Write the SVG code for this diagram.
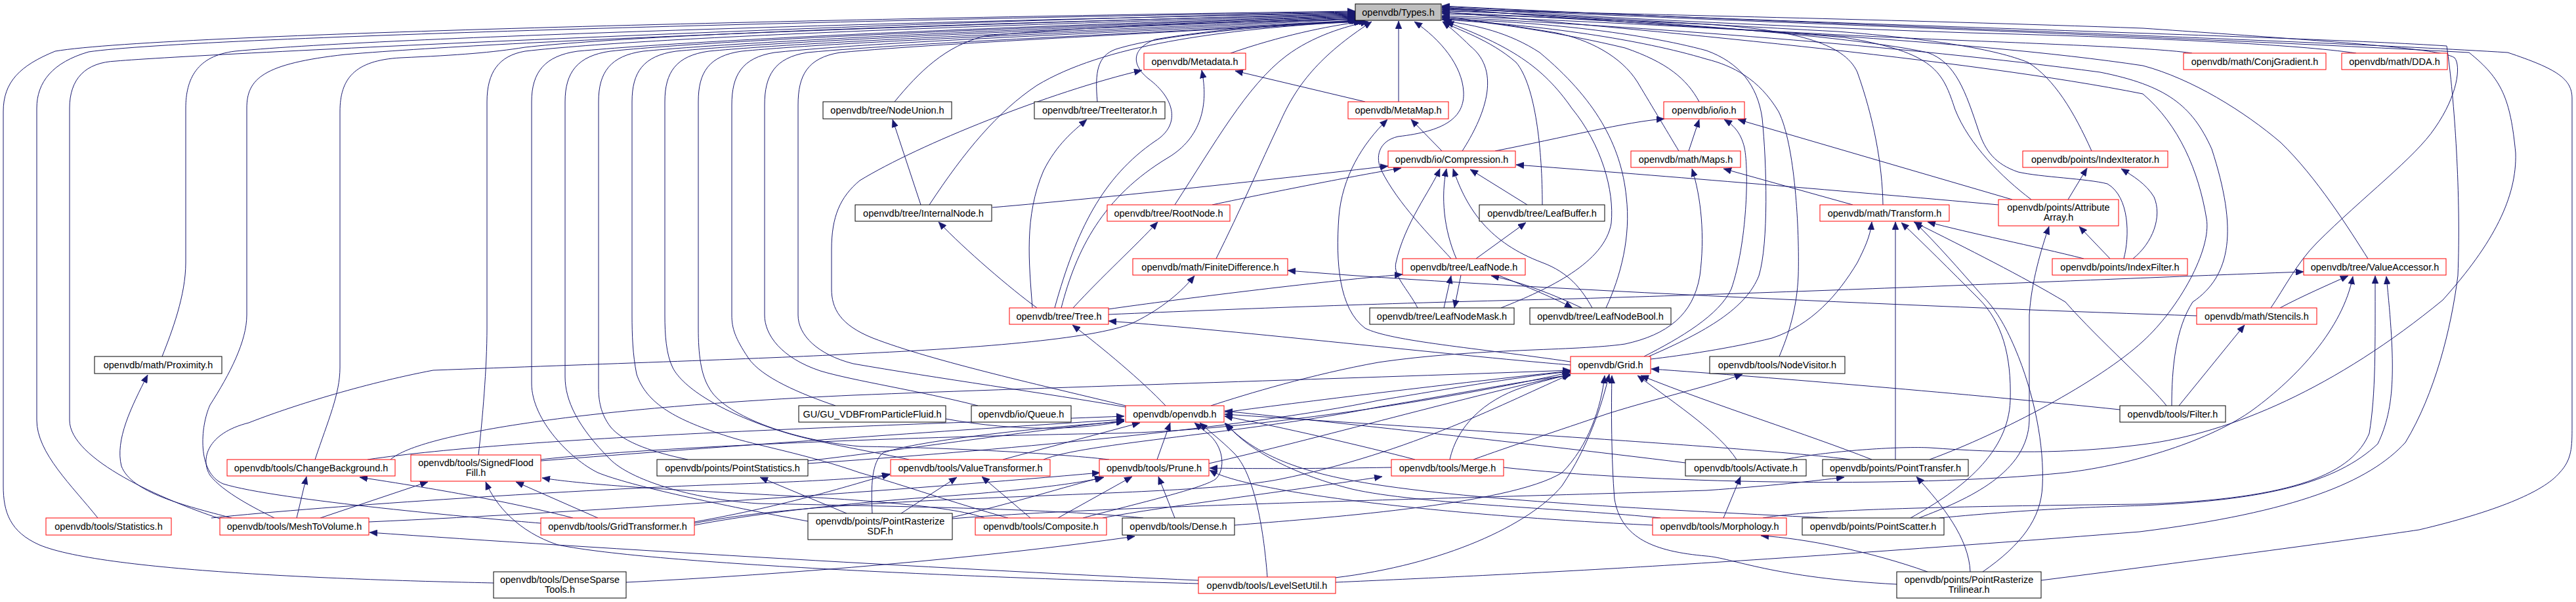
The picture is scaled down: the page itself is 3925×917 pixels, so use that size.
<svg xmlns="http://www.w3.org/2000/svg" width="3925" height="917" viewBox="0 0 3925 917">
<style>
.n rect{fill:#ffffff;stroke:#000000;stroke-width:1}
.n.r rect{stroke:#ff0000}
.n.root rect{fill:#bfbfbf;stroke:#000000}
.n text{font-family:"Liberation Sans",Arial,sans-serif;font-size:14.5px;text-anchor:middle;fill:#000000}
#edges path{fill:none;stroke:#191970;stroke-width:1;marker-end:url(#ah)}
</style>
<defs>
<marker id="ah" viewBox="0 0 12 10" refX="12" refY="5" markerWidth="12" markerHeight="10" markerUnits="userSpaceOnUse" orient="auto"><path d="M0,0 L12,5 L0,10 z" fill="#191970" stroke="#191970" stroke-width="0.5"/></marker>
</defs>
<rect x="0" y="0" width="3925" height="917" fill="#ffffff"/>
<g id="edges">
<path d="M752,888 C560,884 160,872 60,830 C15,810 5,780 5,740 L5,170 C5,125 30,100 84,78 C250,50 1400,26 2065,17"/>
<path d="M149,789 C110,740 56,690 56,640 L56,165 C56,125 80,95 135,79 C300,55 1400,28 2065,18"/>
<path d="M335,790 C250,762 106,700 106,640 L106,165 C106,120 130,95 177,93 C300,82 1400,30 2065,19"/>
<path d="M247,543 C262,505 283,450 283,400 L283,165 C283,120 300,85 358,78 C600,55 1500,30 2065,20"/>
<path d="M824,797 C740,790 420,762 340,737 C300,720 305,650 320,617 C350,570 376,520 376,480 L376,165 C376,120 400,97 526,83 C800,60 1500,35 2065,21"/>
<path d="M480,700 C500,640 518,600 518,560 L518,170 C518,120 540,92 610,88 C700,84 750,80 800,72 C1000,50 1600,32 2065,22"/>
<path d="M729,693 C735,640 742,560 742,500 L742,155 C742,110 760,85 800,78 C1000,55 1600,35 2065,23"/>
<path d="M1231,794 C1100,770 960,740 911,720 C870,700 810,640 810,584 L810,155 C810,110 830,85 880,78 C1100,58 1600,38 2065,24"/>
<path d="M1742,789 C1600,775 1400,772 1155,767 C1050,760 960,730 930,700 C880,650 861,610 861,574 L861,155 C861,110 880,85 930,78 C1100,60 1600,40 2065,25"/>
<path d="M1048,700 C1000,690 950,675 930,650 C915,630 912,610 912,590 L912,155 C912,110 930,85 980,78 C1150,62 1600,42 2065,26"/>
<path d="M1536,789 C1450,765 1380,740 1310,720 C1230,692 1150,678 1110,665 C1030,640 985,615 970,570 C964,540 963,510 963,480 L963,155 C963,110 980,85 1030,78 C1200,62 1600,45 2065,27"/>
<path d="M1385,700 C1340,690 1250,675 1200,660 C1100,630 1040,590 1025,560 C1015,540 1013,510 1013,480 L1013,155 C1013,110 1030,85 1080,78 C1250,62 1650,47 2065,28"/>
<path d="M1690,700 C1600,690 1450,682 1310,680 C1200,670 1100,630 1080,590 C1068,570 1064,540 1064,500 L1064,155 C1064,110 1080,85 1130,78 C1300,62 1700,48 2066,29"/>
<path d="M1273,618 C1220,600 1160,575 1140,545 C1120,515 1115,500 1115,480 L1115,160 C1115,115 1130,88 1180,80 C1350,62 1750,48 2068,31"/>
<path d="M1490,618 C1400,595 1300,580 1250,565 C1190,545 1165,510 1165,480 L1165,160 C1165,115 1180,88 1230,80 C1400,64 1780,50 2070,31"/>
<path d="M1715,620 C1600,600 1420,575 1300,554 C1245,540 1216,510 1216,480 L1216,160 C1216,115 1230,88 1280,80 C1450,64 1800,50 2072,31"/>
<path d="M1715,618 C1600,590 1420,550 1330,515 C1280,495 1267,470 1267,440 L1267,380 C1267,330 1280,300 1310,275 C1400,220 1600,140 1740,107"/>
<path d="M1363,155 C1400,110 1440,70 1500,55 C1650,40 1900,32 2066,30"/>
<path d="M1416,312 C1470,230 1520,170 1580,130 C1680,70 1850,45 2075,32"/>
<path d="M1403,312 L1360,182"/>
<path d="M1672,155 C1668,110 1672,85 1700,75 C1780,50 1950,38 2078,33"/>
<path d="M1512,316 C1700,300 1950,272 2115,253"/>
<path d="M1580,469 C1540,440 1470,380 1430,338"/>
<path d="M1573,469 C1568,400 1560,330 1590,260 C1610,220 1635,200 1656,182"/>
<path d="M1607,469 C1640,350 1680,270 1760,215 C1800,190 1790,150 1750,120 C1725,100 1722,75 1760,60 C1880,40 2000,34 2083,33"/>
<path d="M1617,469 C1640,380 1680,300 1780,240 C1830,210 1842,160 1831,107"/>
<path d="M1635,469 C1680,420 1730,375 1764,338"/>
<path d="M1790,312 C1850,220 1900,130 1960,85 C2000,55 2050,40 2085,33"/>
<path d="M1847,312 C1950,290 2080,265 2135,256"/>
<path d="M1875,81 C1950,55 2020,40 2075,33"/>
<path d="M2080,155 L1882,108"/>
<path d="M2131,155 L2131,32"/>
<path d="M2197,230 L2150,182"/>
<path d="M2228,230 C2260,180 2290,110 2240,70 C2225,55 2210,42 2198,33"/>
<path d="M2278,230 C2380,210 2480,185 2536,181"/>
<path d="M2327,312 L2240,258"/>
<path d="M2350,312 C2350,230 2340,130 2310,95 C2270,60 2220,45 2198,33"/>
<path d="M2249,394 L2325,339"/>
<path d="M2219,394 C2200,350 2195,300 2204,257"/>
<path d="M2211,394 C2180,360 2130,310 2105,260 C2095,240 2100,215 2130,208 C2200,200 2232,180 2230,140 C2228,100 2195,60 2155,33"/>
<path d="M2200,469 L2211,420"/>
<path d="M2226,419 L2216,469"/>
<path d="M2410,469 C2370,450 2320,430 2272,420"/>
<path d="M2282,419 C2330,438 2370,455 2396,469"/>
<path d="M2160,469 C2145,440 2122,420 2127,400 C2140,340 2180,290 2194,257"/>
<path d="M2426,469 C2410,440 2390,415 2350,400 C2270,370 2235,320 2214,257"/>
<path d="M2287,469 C2360,440 2445,400 2455,340 C2460,290 2440,220 2395,165 C2350,100 2300,70 2203,33"/>
<path d="M2447,469 C2470,420 2485,360 2478,300 C2470,220 2430,150 2346,80 C2300,50 2250,38 2200,32"/>
<path d="M2393,551 C2250,530 2120,520 2080,500 C2040,470 2035,400 2040,330 C2045,270 2075,220 2114,182"/>
<path d="M1853,394 C1890,320 1920,250 1950,187 C1975,130 2010,85 2090,33"/>
<path d="M3347,481 C3000,470 2300,440 1962,412"/>
<path d="M1688,471 C1800,455 2000,430 2137,418"/>
<path d="M418,789 C390,775 340,750 320,724 C305,700 315,660 379,644 C440,620 550,585 660,564 C900,555 1200,545 1300,539 C1500,530 1680,515 1730,490 C1770,470 1800,445 1820,420"/>
<path d="M1689,479 C1900,470 2100,462 2400,455 C2900,440 3200,425 3510,414"/>
<path d="M2393,556 C2200,540 1900,505 1689,489"/>
<path d="M1776,618 C1740,580 1680,530 1634,495"/>
<path d="M1866,628 C2000,610 2250,580 2393,565"/>
<path d="M1845,618 C1900,600 2000,570 2100,552 C2250,530 2400,535 2476,524 C2540,510 2580,480 2590,420 C2598,360 2592,300 2578,257"/>
<path d="M2589,155 C2570,120 2540,95 2476,73 C2380,50 2280,35 2197,27"/>
<path d="M2558,230 C2540,200 2510,150 2495,125 C2470,85 2420,60 2371,50 C2300,38 2240,30 2197,25"/>
<path d="M2573,230 L2589,182"/>
<path d="M2823,312 L2626,257"/>
<path d="M2869,312 C2868,250 2855,180 2830,110 C2810,65 2730,45 2600,37 C2450,30 2300,24 2197,21"/>
<path d="M3066,304 L2648,182"/>
<path d="M3095,304 C3050,270 3000,220 2979,167 C2960,110 2950,80 2810,57 C2600,40 2350,25 2197,19"/>
<path d="M3151,304 L3180,256"/>
<path d="M3187,230 C3160,170 3130,120 3090,95 C3040,75 2950,60 2800,48 C2550,35 2350,20 2197,17"/>
<path d="M3045,312 C2800,290 2500,265 2310,251"/>
<path d="M3215,394 L3168,345"/>
<path d="M3250,394 C3280,370 3295,330 3282,300 C3270,280 3250,268 3232,257"/>
<path d="M3236,394 C3245,360 3245,300 3211,280 C3180,272 3110,270 3075,262 C3040,250 3025,230 3015,200 C2995,140 2980,95 2937,80 C2800,50 2400,25 2197,15"/>
<path d="M3175,394 C3100,375 3000,355 2937,338"/>
<path d="M2505,543 C2560,515 2620,480 2638,440 C2662,370 2665,260 2658,225 C2652,200 2640,190 2627,182"/>
<path d="M2512,543 C2600,505 2660,470 2680,420 C2695,370 2692,250 2685,180 C2678,130 2650,95 2600,77 C2500,50 2350,33 2197,29"/>
<path d="M2711,543 C2725,510 2738,470 2740,420 C2742,350 2735,220 2710,170 C2680,120 2640,100 2600,90 C2500,60 2350,38 2197,30"/>
<path d="M2245,700 C2300,680 2371,657 2450,630 C2530,605 2600,590 2655,570"/>
<path d="M3230,624 C3000,600 2700,575 2516,562"/>
<path d="M3301,618 C3280,590 3200,520 3147,460 C3080,420 3000,380 2916,338"/>
<path d="M3320,618 L3420,495"/>
<path d="M3309,618 C3309,560 3315,500 3341,460 C3400,420 3410,350 3370,227 C3340,160 3300,130 3200,110 C2900,70 2500,40 2197,26"/>
<path d="M3460,469 C3480,440 3500,400 3530,370 C3600,300 3680,240 3710,195 C3745,145 3750,100 3740,88 C3720,75 3600,66 3265,43 C2900,30 2500,22 2197,14"/>
<path d="M3474,469 C3510,450 3545,435 3578,420"/>
<path d="M3608,394 C3580,350 3530,270 3475,217 C3420,170 3340,120 3265,100 C3000,60 2500,35 2197,24"/>
<path d="M3590,81 C3500,68 3300,58 3000,50 C2700,40 2400,25 2197,11"/>
<path d="M3340,81 C3300,75 3200,70 3000,62 C2700,50 2400,30 2197,12"/>
<path d="M2035,887 C2300,875 2600,862 3260,810 C3500,780 3610,734 3665,674 C3710,600 3735,500 3745,420 C3750,300 3740,150 3728,70 C3500,55 2700,35 2197,10"/>
<path d="M2718,700 C2800,685 2900,680 2940,682 C3050,690 3147,692 3265,677 C3400,660 3560,590 3722,457 C3800,370 3835,300 3833,233 C3825,150 3812,120 3762,80 C3300,55 2700,35 2197,12"/>
<path d="M3110,884 C3300,860 3600,820 3686,807 C3800,780 3875,750 3900,720 C3919,700 3919,680 3919,650 L3919,150 C3919,120 3896,105 3821,80 C3500,60 2700,35 2197,9"/>
<path d="M2940,700 C3050,660 3200,580 3265,520 C3320,470 3370,380 3362,333 C3350,260 3320,190 3265,143 C3000,90 2500,45 2197,18"/>
<path d="M2686,789 C2750,778 2900,772 3265,768 C3500,760 3585,720 3610,660 C3620,600 3619,530 3619,420"/>
<path d="M2291,712 C2500,735 2900,745 3147,720 C3250,708 3370,670 3433,624 C3500,575 3570,500 3585,421"/>
<path d="M2955,789 C3100,775 3200,772 3265,770 C3450,762 3560,736 3623,676 C3650,620 3650,557 3636,421"/>
<path d="M2924,789 C3000,760 3090,720 3092,640 L3092,480 C3095,430 3110,380 3122,345"/>
<path d="M2911,789 C2990,745 3060,690 3063,610 C3065,540 3050,490 3015,455 C2970,410 2930,370 2897,339"/>
<path d="M3021,871 C3080,830 3110,790 3112,740 C3115,680 3100,600 3070,530 C3055,495 3040,470 3020,450 C2985,410 2950,370 2918,339"/>
<path d="M2937,871 C2850,840 2750,820 2683,816"/>
<path d="M3002,871 C3000,820 2960,770 2920,726"/>
<path d="M2890,890 C2700,880 2640,850 2600,847 C2520,840 2470,820 2460,760 C2455,700 2455,620 2456,572"/>
<path d="M2888,700 L2888,338"/>
<path d="M2515,547 C2560,542 2640,530 2700,515 C2760,495 2800,450 2830,400 C2840,380 2850,360 2852,338"/>
<path d="M2626,789 L2652,726"/>
<path d="M2209,700 C2220,650 2260,610 2320,590 C2350,580 2375,575 2393,570"/>
<path d="M2156,700 C2080,680 1950,650 1866,634"/>
<path d="M2852,700 C2750,660 2620,620 2500,572"/>
<path d="M2646,700 C2620,660 2560,620 2495,572"/>
<path d="M2819,700 C2700,684 2300,660 1866,631"/>
<path d="M2568,705 C2300,672 2000,640 1866,626"/>
<path d="M2785,789 C2500,775 2200,760 2050,730 C1950,710 1900,680 1866,644"/>
<path d="M2530,789 C2400,775 2160,768 2060,745 C1980,725 1905,690 1868,645"/>
<path d="M2518,800 C2200,785 1900,750 1843,716"/>
<path d="M2120,712 C2000,714 1900,714 1843,713"/>
<path d="M1931,879 C1925,800 1910,720 1880,690 C1860,670 1840,655 1828,644"/>
<path d="M2034,880 C2200,860 2330,800 2380,740 C2420,680 2440,620 2452,570"/>
<path d="M1826,889 C1500,880 1000,860 850,830 C790,810 755,770 740,734"/>
<path d="M1826,884 C1500,870 900,835 563,811"/>
<path d="M954,887 C1200,875 1500,850 1729,817"/>
<path d="M353,789 C280,770 200,750 185,710 C175,670 200,620 225,571"/>
<path d="M452,789 L467,726"/>
<path d="M488,789 L652,734"/>
<path d="M562,795 C900,780 1400,745 1676,720"/>
<path d="M873,789 C800,770 700,750 548,727"/>
<path d="M911,789 L786,734"/>
<path d="M1058,795 C1200,770 1300,738 1356,722"/>
<path d="M1058,800 C1150,782 1300,765 1450,755 C1580,745 1650,735 1682,727"/>
<path d="M1290,782 L1158,727"/>
<path d="M1373,782 L1458,727"/>
<path d="M1329,782 C1327,740 1328,705 1345,690 C1400,670 1600,650 1713,642"/>
<path d="M1451,788 C1550,765 1620,742 1680,727"/>
<path d="M1451,790 C1700,770 2200,760 2600,747 C2700,740 2760,733 2810,727"/>
<path d="M1650,789 C1720,770 1830,745 1852,730 C1868,715 1865,680 1840,660 C1830,652 1825,648 1820,644"/>
<path d="M1570,789 L1496,726"/>
<path d="M1612,789 L1725,726"/>
<path d="M1500,789 C1450,770 1300,760 1100,750 C950,742 870,735 826,728"/>
<path d="M1680,789 C1750,775 1950,750 2106,726"/>
<path d="M1790,789 L1765,726"/>
<path d="M1881,800 C2000,790 2300,770 2380,720 C2420,680 2440,620 2445,572"/>
<path d="M1528,700 L1737,644"/>
<path d="M1763,700 L1783,644"/>
<path d="M1231,702 C1400,682 1600,652 1713,641"/>
<path d="M824,702 C1100,680 1500,652 1713,639"/>
<path d="M560,700 C800,665 1300,650 1713,634"/>
<path d="M322,789 C500,770 900,745 1100,738 C1250,733 1320,728 1356,723"/>
<path d="M595,700 C640,660 900,620 1300,602 C1600,590 2100,575 2393,564"/>
<path d="M824,700 C1000,680 1400,665 1700,660 C1900,656 2200,610 2393,567"/>
<path d="M1058,797 C1300,750 1800,760 1950,730 C2150,690 2300,610 2393,570"/>
<path d="M1231,706 C1500,688 1900,652 2100,610 C2250,585 2330,572 2393,566"/>
<path d="M1590,700 C1650,675 1900,660 2100,620 C2250,595 2330,578 2393,572"/>
<path d="M1842,706 C2000,670 2250,600 2393,570"/>
<path d="M1441,638 C1550,658 1650,655 1713,641"/>
</g>
<g id="n_types" class="n root"><rect x="2065" y="6" width="131" height="25"/><text x="2130.5" y="23.5">openvdb/Types.h</text></g>
<g id="n_metadata" class="n r"><rect x="1743" y="81" width="155" height="25"/><text x="1820.5" y="98.5">openvdb/Metadata.h</text></g>
<g id="n_conjgradient" class="n r"><rect x="3327" y="81" width="217" height="25"/><text x="3435.5" y="98.5">openvdb/math/ConjGradient.h</text></g>
<g id="n_dda" class="n r"><rect x="3568" y="81" width="161" height="25"/><text x="3648.5" y="98.5">openvdb/math/DDA.h</text></g>
<g id="n_nodeunion" class="n"><rect x="1254" y="155" width="196" height="26"/><text x="1352" y="173">openvdb/tree/NodeUnion.h</text></g>
<g id="n_treeiterator" class="n"><rect x="1576" y="155" width="199" height="26"/><text x="1675.5" y="173">openvdb/tree/TreeIterator.h</text></g>
<g id="n_metamap" class="n r"><rect x="2054" y="155" width="153" height="26"/><text x="2130.5" y="173">openvdb/MetaMap.h</text></g>
<g id="n_io" class="n r"><rect x="2535" y="155" width="123" height="26"/><text x="2596.5" y="173">openvdb/io/io.h</text></g>
<g id="n_compression" class="n r"><rect x="2115" y="230" width="194" height="25"/><text x="2212" y="247.5">openvdb/io/Compression.h</text></g>
<g id="n_maps" class="n r"><rect x="2485" y="230" width="167" height="25"/><text x="2568.5" y="247.5">openvdb/math/Maps.h</text></g>
<g id="n_indexiterator" class="n r"><rect x="3082" y="230" width="221" height="25"/><text x="3192.5" y="247.5">openvdb/points/IndexIterator.h</text></g>
<g id="n_internalnode" class="n"><rect x="1303" y="312" width="208" height="25"/><text x="1407" y="329.5">openvdb/tree/InternalNode.h</text></g>
<g id="n_rootnode" class="n r"><rect x="1687" y="312" width="187" height="25"/><text x="1780.5" y="329.5">openvdb/tree/RootNode.h</text></g>
<g id="n_leafbuffer" class="n"><rect x="2254" y="312" width="191" height="25"/><text x="2349.5" y="329.5">openvdb/tree/LeafBuffer.h</text></g>
<g id="n_transform" class="n r"><rect x="2773" y="312" width="197" height="25"/><text x="2871.5" y="329.5">openvdb/math/Transform.h</text></g>
<g id="n_attributearray" class="n r"><rect x="3045" y="304" width="183" height="40"/><text x="3136.5" y="321">openvdb/points/Attribute</text><text x="3136.5" y="336">Array.h</text></g>
<g id="n_finitedifference" class="n r"><rect x="1726" y="394" width="236" height="25"/><text x="1844" y="411.5">openvdb/math/FiniteDifference.h</text></g>
<g id="n_leafnode" class="n r"><rect x="2137" y="394" width="187" height="25"/><text x="2230.5" y="411.5">openvdb/tree/LeafNode.h</text></g>
<g id="n_indexfilter" class="n r"><rect x="3127" y="394" width="206" height="25"/><text x="3230" y="411.5">openvdb/points/IndexFilter.h</text></g>
<g id="n_valueaccessor" class="n r"><rect x="3510" y="394" width="217" height="25"/><text x="3618.5" y="411.5">openvdb/tree/ValueAccessor.h</text></g>
<g id="n_tree" class="n r"><rect x="1538" y="469" width="151" height="25"/><text x="1613.5" y="486.5">openvdb/tree/Tree.h</text></g>
<g id="n_leafnodemask" class="n"><rect x="2087" y="469" width="220" height="25"/><text x="2197" y="486.5">openvdb/tree/LeafNodeMask.h</text></g>
<g id="n_leafnodebool" class="n"><rect x="2331" y="469" width="215" height="25"/><text x="2438.5" y="486.5">openvdb/tree/LeafNodeBool.h</text></g>
<g id="n_stencils" class="n r"><rect x="3347" y="469" width="183" height="25"/><text x="3438.5" y="486.5">openvdb/math/Stencils.h</text></g>
<g id="n_proximity" class="n"><rect x="144" y="543" width="194" height="26"/><text x="241" y="561">openvdb/math/Proximity.h</text></g>
<g id="n_grid" class="n r"><rect x="2393" y="543" width="122" height="26"/><text x="2454" y="561">openvdb/Grid.h</text></g>
<g id="n_nodevisitor" class="n"><rect x="2605" y="543" width="206" height="26"/><text x="2708" y="561">openvdb/tools/NodeVisitor.h</text></g>
<g id="n_gu" class="n"><rect x="1217" y="618" width="224" height="25"/><text x="1329" y="635.5">GU/GU_VDBFromParticleFluid.h</text></g>
<g id="n_queue" class="n"><rect x="1480" y="618" width="152" height="25"/><text x="1556" y="635.5">openvdb/io/Queue.h</text></g>
<g id="n_openvdb" class="n r"><rect x="1715" y="618" width="150" height="25"/><text x="1790" y="635.5">openvdb/openvdb.h</text></g>
<g id="n_filter" class="n"><rect x="3230" y="618" width="161" height="25"/><text x="3310.5" y="635.5">openvdb/tools/Filter.h</text></g>
<g id="n_changebackground" class="n r"><rect x="346" y="700" width="256" height="25"/><text x="474" y="717.5">openvdb/tools/ChangeBackground.h</text></g>
<g id="n_signedfloodfill" class="n r"><rect x="626" y="693" width="198" height="40"/><text x="725" y="710">openvdb/tools/SignedFlood</text><text x="725" y="725">Fill.h</text></g>
<g id="n_pointstatistics" class="n"><rect x="1001" y="700" width="230" height="25"/><text x="1116" y="717.5">openvdb/points/PointStatistics.h</text></g>
<g id="n_valuetransformer" class="n r"><rect x="1357" y="700" width="243" height="25"/><text x="1478.5" y="717.5">openvdb/tools/ValueTransformer.h</text></g>
<g id="n_prune" class="n r"><rect x="1675" y="700" width="167" height="25"/><text x="1758.5" y="717.5">openvdb/tools/Prune.h</text></g>
<g id="n_merge" class="n r"><rect x="2120" y="700" width="171" height="25"/><text x="2205.5" y="717.5">openvdb/tools/Merge.h</text></g>
<g id="n_activate" class="n"><rect x="2568" y="700" width="184" height="25"/><text x="2660" y="717.5">openvdb/tools/Activate.h</text></g>
<g id="n_pointtransfer" class="n"><rect x="2777" y="700" width="222" height="25"/><text x="2888" y="717.5">openvdb/points/PointTransfer.h</text></g>
<g id="n_statistics" class="n r"><rect x="70" y="789" width="191" height="26"/><text x="165.5" y="807">openvdb/tools/Statistics.h</text></g>
<g id="n_meshtovolume" class="n r"><rect x="335" y="789" width="227" height="26"/><text x="448.5" y="807">openvdb/tools/MeshToVolume.h</text></g>
<g id="n_gridtransformer" class="n r"><rect x="824" y="789" width="234" height="26"/><text x="941" y="807">openvdb/tools/GridTransformer.h</text></g>
<g id="n_pointrasterizesdf" class="n"><rect x="1231" y="782" width="220" height="40"/><text x="1341" y="799">openvdb/points/PointRasterize</text><text x="1341" y="814">SDF.h</text></g>
<g id="n_composite" class="n r"><rect x="1486" y="789" width="200" height="26"/><text x="1586" y="807">openvdb/tools/Composite.h</text></g>
<g id="n_dense" class="n"><rect x="1710" y="789" width="171" height="26"/><text x="1795.5" y="807">openvdb/tools/Dense.h</text></g>
<g id="n_morphology" class="n r"><rect x="2518" y="789" width="204" height="26"/><text x="2620" y="807">openvdb/tools/Morphology.h</text></g>
<g id="n_pointscatter" class="n"><rect x="2746" y="789" width="216" height="26"/><text x="2854" y="807">openvdb/points/PointScatter.h</text></g>
<g id="n_densesparsetools" class="n"><rect x="752" y="871" width="202" height="40"/><text x="853" y="888">openvdb/tools/DenseSparse</text><text x="853" y="903">Tools.h</text></g>
<g id="n_levelsetutil" class="n r"><rect x="1826" y="879" width="209" height="25"/><text x="1930.5" y="896.5">openvdb/tools/LevelSetUtil.h</text></g>
<g id="n_pointrasterizetrilinear" class="n"><rect x="2890" y="871" width="220" height="40"/><text x="3000" y="888">openvdb/points/PointRasterize</text><text x="3000" y="903">Trilinear.h</text></g>
</svg>
